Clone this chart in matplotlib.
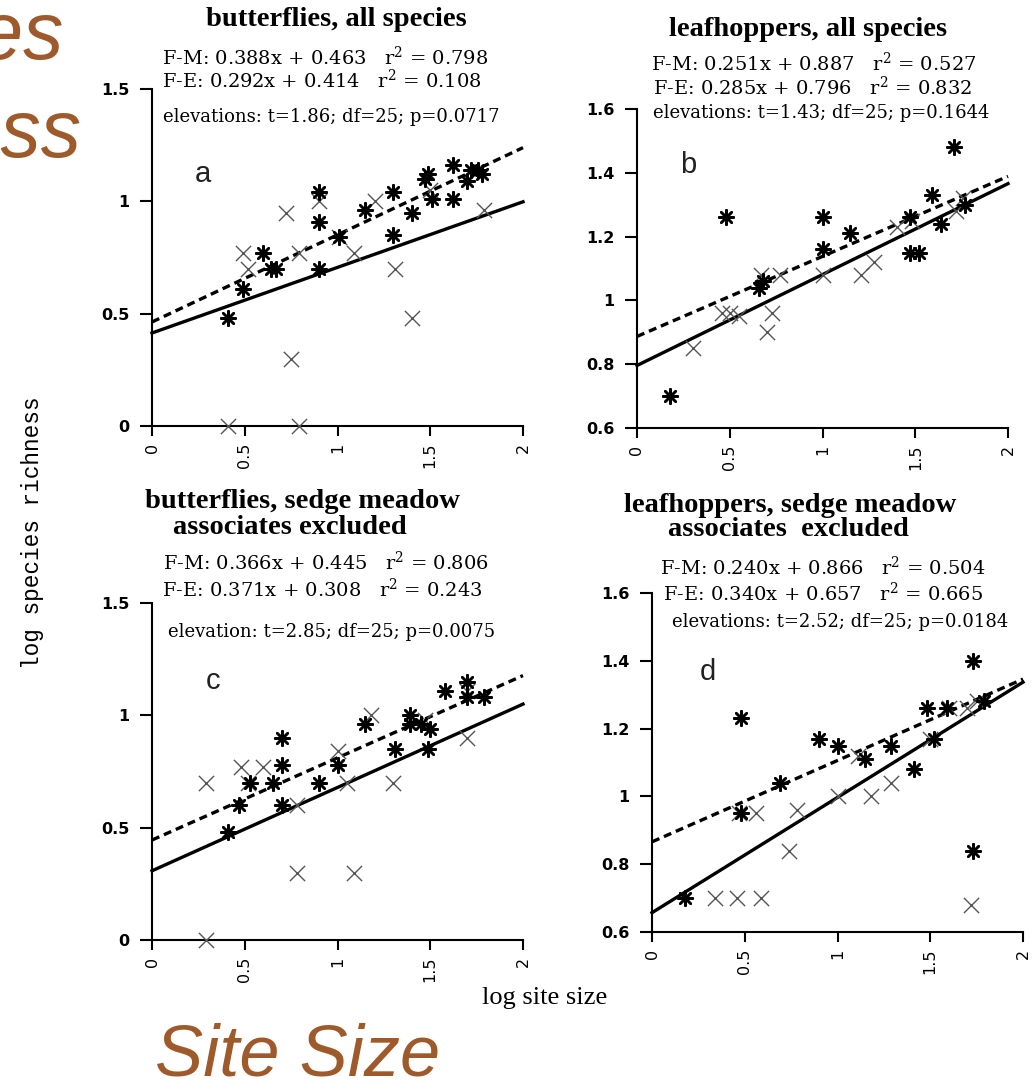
import matplotlib
matplotlib.use("Agg")
import matplotlib.pyplot as plt
import numpy as np
from matplotlib import font_manager

W, H = 1032, 1085

# ---- data ----
# panel a: butterflies, all species
a_fm_x = [0.41, 0.49, 0.60, 0.64, 0.67, 0.90, 0.90, 0.90, 1.01, 1.15, 1.30, 1.30, 1.40,
          1.47, 1.49, 1.51, 1.62, 1.62, 1.70, 1.72, 1.76, 1.78]
a_fm_y = [0.48, 0.61, 0.77, 0.70, 0.70, 1.04, 0.91, 0.70, 0.84, 0.96, 1.04, 0.85, 0.95,
          1.10, 1.12, 1.01, 1.16, 1.01, 1.09, 1.14, 1.14, 1.12]
a_fe_x = [0.41, 0.79, 0.75, 1.40, 0.49, 0.52, 0.72, 0.79, 0.90, 1.09, 1.20, 1.31, 1.79, 1.01, 1.50]
a_fe_y = [0.00, 0.00, 0.30, 0.48, 0.77, 0.70, 0.95, 0.77, 1.00, 0.77, 1.00, 0.70, 0.96, 0.84, 1.05]

# panel b: leafhoppers, all species
b_fm_x = [0.18, 0.48, 0.66, 0.68, 1.00, 1.00, 1.15, 1.47, 1.47, 1.52, 1.59, 1.64, 1.71, 1.77]
b_fm_y = [0.70, 1.26, 1.04, 1.06, 1.26, 1.16, 1.21, 1.26, 1.15, 1.15, 1.33, 1.24, 1.48, 1.30]
b_fe_x = [0.30, 0.46, 0.50, 0.55, 0.70, 0.73, 0.67, 0.77, 1.00, 1.21, 1.28, 1.40, 1.72, 1.76, 1.48]
b_fe_y = [0.85, 0.96, 0.96, 0.95, 0.90, 0.96, 1.08, 1.08, 1.08, 1.08, 1.12, 1.23, 1.28, 1.32, 1.25]

# panel c: butterflies, sedge meadow associates excluded
c_fm_x = [0.41, 0.47, 0.53, 0.65, 0.70, 0.70, 0.70, 0.90, 1.00, 1.15, 1.31, 1.39, 1.39,
          1.45, 1.50, 1.49, 1.58, 1.70, 1.70, 1.79]
c_fm_y = [0.48, 0.60, 0.70, 0.70, 0.90, 0.78, 0.60, 0.70, 0.78, 0.96, 0.85, 1.00, 0.96,
          0.96, 0.94, 0.85, 1.11, 1.15, 1.08, 1.08]
c_fe_x = [0.29, 0.29, 0.48, 0.52, 0.60, 0.78, 1.09, 0.78, 1.00, 1.05, 1.18, 1.30, 1.47, 1.70, 1.70]
c_fe_y = [0.00, 0.70, 0.77, 0.70, 0.77, 0.30, 0.30, 0.60, 0.84, 0.70, 1.00, 0.70, 0.98, 0.90, 1.11]

# panel d: leafhoppers, sedge meadow associates excluded
d_fm_x = [0.18, 0.48, 0.48, 0.69, 0.90, 1.00, 1.15, 1.29, 1.41, 1.48, 1.52, 1.59, 1.73, 1.73, 1.79]
d_fm_y = [0.70, 1.23, 0.95, 1.04, 1.17, 1.15, 1.11, 1.15, 1.08, 1.26, 1.17, 1.26, 1.40, 0.84, 1.28]
d_fe_x = [0.34, 0.46, 0.59, 0.56, 0.47, 0.74, 0.78, 1.00, 1.18, 1.29, 1.11, 1.60, 1.70, 1.75, 1.72, 1.50]
d_fe_y = [0.70, 0.70, 0.70, 0.95, 0.95, 0.84, 0.96, 1.00, 1.00, 1.04, 1.12, 1.26, 1.26, 1.28, 0.68, 1.17]

# regression coefficients (slope, intercept) printed on each panel
fm_fit = [(0.388, 0.463), (0.251, 0.887), (0.366, 0.445), (0.240, 0.866)]
fe_fit = [(0.292, 0.414), (0.285, 0.796), (0.371, 0.308), (0.340, 0.657)]
fm_r2 = ["0.798", "0.527", "0.806", "0.504"]
fe_r2 = ["0.108", "0.832", "0.243", "0.665"]
elev_text = ["elevations: t=1.86; df=25; p=0.0717",
             "elevations: t=1.43; df=25; p=0.1644",
             "elevation: t=2.85; df=25; p=0.0075",
             "elevations: t=2.52; df=25; p=0.0184"]
titles = [["butterflies, all species"],
          ["leafhoppers, all species"],
          ["butterflies, sedge meadow", "associates excluded"],
          ["leafhoppers, sedge meadow", "associates  excluded"]]
letters = ["a", "b", "c", "d"]
ylims = [(0, 1.5), (0.6, 1.6), (0, 1.5), (0.6, 1.6)]
yticks = [[0, 0.5, 1, 1.5], [0.6, 0.8, 1, 1.2, 1.4, 1.6],
          [0, 0.5, 1, 1.5], [0.6, 0.8, 1, 1.2, 1.4, 1.6]]
yticklabels = [["0", "0.5", "1", "1.5"], ["0.6", "0.8", "1", "1.2", "1.4", "1.6"],
               ["0", "0.5", "1", "1.5"], ["0.6", "0.8", "1", "1.2", "1.4", "1.6"]]
xticks = [0, 0.5, 1, 1.5, 2]
xticklabels = ["0", "0.5", "1", "1.5", "2"]

fm_xs = [a_fm_x, b_fm_x, c_fm_x, d_fm_x]
fm_ys = [a_fm_y, b_fm_y, c_fm_y, d_fm_y]
fe_xs = [a_fe_x, b_fe_x, c_fe_x, d_fe_x]
fe_ys = [a_fe_y, b_fe_y, c_fe_y, d_fe_y]

# ---- layout (pixel positions from the reference) ----
# axes boxes: left, top(px of ymax), right, bottom(px of ymin)
boxes = [(152, 89, 523, 426), (637, 109, 1008, 428),
         (152, 603, 523, 940), (652, 593, 1023, 932)]
title_pos = [[(336, 20)], [(808, 30)], [(302, 502), (290, 527)], [(790, 505), (788, 530)]]
fm_pos = [(162, 57), (651, 63), (163, 562), (660, 567)]
fe_pos = [(162, 80), (653, 87), (162, 589), (663, 593)]
el_pos = [(163, 117), (653, 113), (168, 632), (672, 622)]
letter_pos = [(203, 182), (688, 173), (213, 689), (708, 680)]

names = {f.name for f in font_manager.fontManager.ttflist}
narrow = "Liberation Sans Narrow" if "Liberation Sans Narrow" in names else "Liberation Sans"
brown = "#9E5A2A"
serif = "DejaVu Serif"

plt.rcParams["mathtext.fontset"] = "dejavuserif"

fig = plt.figure(figsize=(W / 100, H / 100), dpi=100)


def fx(x):
    return x / W


def fy(y):
    return 1 - y / H


for i in range(4):
    l, t, r, b = boxes[i]
    ax = fig.add_axes([fx(l), fy(b), (r - l) / W, (b - t) / H])
    ax.set_xlim(0, 2)
    ax.set_ylim(*ylims[i])
    for s in ["top", "right"]:
        ax.spines[s].set_visible(False)
    for s in ["left", "bottom"]:
        ax.spines[s].set_linewidth(1.5)
    ax.set_xticks(xticks)
    ax.set_xticklabels(xticklabels, rotation=90, family="DejaVu Sans", fontsize=11.5)
    ax.set_yticks(yticks[i])
    ax.set_yticklabels(yticklabels[i], family="DejaVu Sans", fontsize=11.5, fontweight="bold")
    ax.tick_params(axis="y", direction="out", length=9, width=1.5, pad=7)
    ax.tick_params(axis="x", direction="out", length=7, width=1.5, pad=5)
    ax.patch.set_alpha(0)

    xx = np.array([0, 2.0])
    m, c = fm_fit[i]
    ax.plot(xx, m * xx + c, color="black", lw=2.4, ls=(0, (2.4, 1.5)), clip_on=False)
    m, c = fe_fit[i]
    ax.plot(xx, m * xx + c, color="black", lw=2.4, clip_on=False)

    ax.scatter(fe_xs[i], fe_ys[i], marker="x", s=120, color="#555555", lw=1.0,
               clip_on=False, zorder=3)
    ax.scatter(fm_xs[i], fm_ys[i], marker=(8, 2, 0), s=110, color="black", lw=1.8,
               clip_on=False, zorder=4)
    ax.scatter(fm_xs[i], fm_ys[i], marker="o", s=18, color="black", lw=0,
               clip_on=False, zorder=4)

    for txt, (px, py) in zip(titles[i], title_pos[i]):
        fig.text(fx(px), fy(py), txt, ha="center", va="center", family="Liberation Serif",
                 fontweight="bold", fontsize=20.5)
    px, py = fm_pos[i]
    fig.text(fx(px), fy(py), "F-M: %.3fx + %.3f   r$^2$ = %s" % (fm_fit[i][0], fm_fit[i][1], fm_r2[i]),
             ha="left", va="center", family=serif, fontsize=14)
    px, py = fe_pos[i]
    fig.text(fx(px), fy(py), "F-E: %.3fx + %.3f   r$^2$ = %s" % (fe_fit[i][0], fe_fit[i][1], fe_r2[i]),
             ha="left", va="center", family=serif, fontsize=14)
    px, py = el_pos[i]
    fig.text(fx(px), fy(py), elev_text[i], ha="left", va="center", family=serif, fontsize=13)
    px, py = letter_pos[i]
    fig.text(fx(px), fy(py), letters[i], ha="center", va="baseline",
             family="Liberation Sans", fontsize=21, color="#222222")

# axis labels
fig.text(fx(33), fy(533), "log species richness", rotation=90, ha="center", va="center",
         family="Liberation Mono", fontsize=16.4)
fig.text(fx(545), fy(998), "log site size", ha="center", va="center",
         family="Liberation Serif", fontsize=19)

# slide title fragments (cut off at the left edge) and slide caption
fig.text(fx(64), fy(59), "Species", ha="right", va="baseline", family=narrow,
         style="italic", fontsize=58, color=brown)
fig.text(fx(82), fy(157), "Richness", ha="right", va="baseline", family=narrow,
         style="italic", fontsize=58, color=brown)
fig.text(fx(155), fy(1076), "Site Size", ha="left", va="baseline", family=narrow,
         style="italic", fontsize=52, color=brown)

fig.savefig("out.png", dpi=100)
